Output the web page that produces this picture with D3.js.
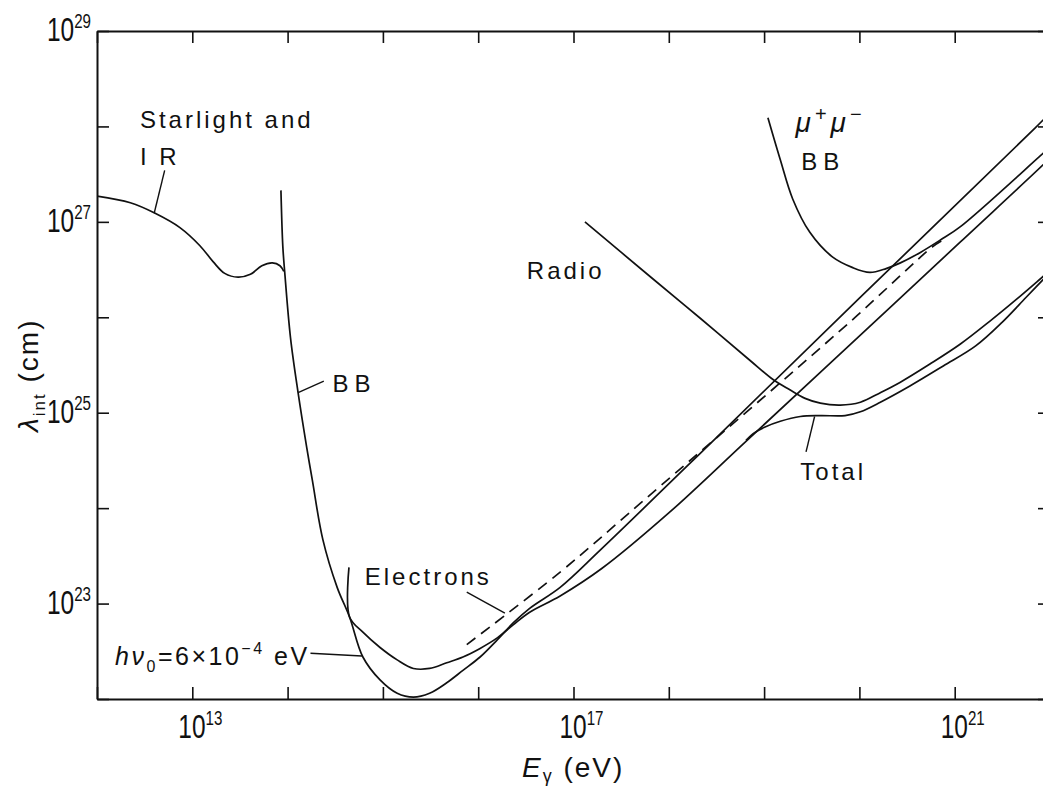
<!DOCTYPE html>
<html>
<head>
<meta charset="utf-8">
<script src="https://cdn.jsdelivr.net/npm/d3@7"></script>
<style>
  body { margin: 0; background: #fff; }
  text { font-family: "Liberation Sans", Arial, sans-serif; fill: #111; }
</style>
</head>
<body>
<div id="chart"></div>
<script>
// values are decade exponents: [log10 E (eV), log10 lambda (cm)]
var starlight = [[12.0,27.27],[12.35,27.20],[12.61,27.09],[12.87,26.94],[13.08,26.75],[13.22,26.58],
    [13.34,26.46],[13.48,26.42],[13.61,26.45],[13.73,26.54],[13.84,26.57],[13.92,26.54],[13.96,26.48]];

var bbPairs = [[13.93,27.33],[13.95,26.74],[13.97,26.47],[14.03,25.79],[14.11,25.21],[14.20,24.64],
    [14.26,24.29],[14.37,23.67],[14.52,23.17],[14.65,22.86],[14.79,22.44],[14.97,22.20],[15.15,22.06],
    [15.32,22.02],[15.49,22.06],[15.67,22.17],[15.84,22.30],[16.02,22.44],[16.20,22.62],[16.37,22.80],
    [16.54,22.95],[16.86,23.17],[17.28,23.56],[18.5,24.74],[20.0,26.20],[21.84,27.98],[22.0,28.14]];

// monochromatic photons, h nu0 = 6e-4 eV (threshold drawn vertical)
var monoPairs = [[14.644,23.38],[14.65,22.86],[14.79,22.70],[14.97,22.54],[15.15,22.41],[15.32,22.32],
    [15.49,22.32],[15.67,22.38],[15.84,22.44],[16.02,22.53],[16.20,22.64],[16.37,22.78],[16.54,22.91],
    [16.86,23.08],[17.3,23.37],[18.0,23.95],[18.81,24.70],[19.90,25.71],[21.06,26.79],[21.93,27.60],
    [22.0,27.67]];

var electrons = [[15.88,22.57],[16.86,23.33],[17.70,24.05],[19.90,25.95],[20.77,26.74],[20.88,26.81]];

var muonPairs = [[19.04,28.09],[19.17,27.65],[19.30,27.24],[19.48,26.89],[19.72,26.63],[19.93,26.52],
    [20.11,26.47],[20.28,26.51],[20.43,26.57],[20.64,26.68],[20.85,26.81],[21.06,26.95],[21.93,27.72],
    [22.0,27.78]];

var radio = [[17.12,27.00],[17.80,26.43],[18.33,25.99],[18.85,25.55],[19.09,25.35],[19.27,25.24],
    [19.43,25.15],[19.59,25.10],[19.80,25.08],[20.01,25.11],[20.22,25.21],[20.43,25.32],[20.74,25.51],
    [21.06,25.72],[21.37,25.96],[21.65,26.19],[21.93,26.43],[22.0,26.49]];

var total = [[18.81,24.71],[18.90,24.79],[19.01,24.85],[19.17,24.91],[19.38,24.96],[19.59,24.97],
    [19.85,24.97],[20.01,25.01],[20.22,25.11],[20.53,25.28],[20.88,25.49],[21.22,25.70],[21.5,25.95],
    [21.75,26.21],[22.0,26.47]];

var xLabelExp = [13, 17, 21];
var yLabelExp = [23, 25, 27, 29];
var xDecades = d3.range(12, 23);
var yDecades = d3.range(22, 30);

// label positions and leader lines, in the same exponent space
var labels = [
    {text: "Starlight and", at: [12.45, 27.98]},
    {text: "I R", at: [12.45, 27.60], leader: [[12.71, 27.54], [12.60, 27.09]]},
    {text: "BB", at: [14.47, 25.22], leader: [[14.38, 25.33], [14.11, 25.21]], spacing: 6},
    {text: "Radio", at: [16.51, 26.40]},
    {text: "BB", at: [19.39, 27.54], spacing: 6},
    {text: "Electrons", at: [14.81, 23.19], leader: [[15.88, 23.12], [16.28, 22.90]]},
    {text: "Total", at: [19.38, 24.29], leader: [[19.44, 24.59], [19.53, 24.96]]}
];
var hnuLeader = [[14.24, 22.48], [14.78, 22.45]];

var svg = d3.select("#chart").append("svg")
    .attr("width", 1043).attr("height", 789)
    .style("background", "#fff");

var x = d3.scaleLog().domain([1e12, 1e22]).range([97, 1050]);
var y = d3.scaleLog().domain([1e22, 1e29]).range([699, 31]);
var px = function(d) { return x(Math.pow(10, d[0])); };
var py = function(d) { return y(Math.pow(10, d[1])); };

svg.append("clipPath").attr("id", "plotClip")
    .append("rect").attr("x", 97).attr("y", 31).attr("width", 953).attr("height", 668);

//Axes with inward ticks on every decade
var tickVals = function(arr) { return arr.map(function(e) { return Math.pow(10, e); }); };
var axisStyle = function(g) {
    g.selectAll("path").attr("stroke", "#111").attr("stroke-width", 2);
    g.selectAll("line").attr("stroke", "#111").attr("stroke-width", 1.6);
};
svg.append("g").attr("transform", "translate(0,699)")
    .call(d3.axisBottom(x).tickValues(tickVals(xDecades)).tickSize(-12).tickSizeOuter(0).tickFormat(""))
    .call(axisStyle);
svg.append("g").attr("transform", "translate(0,31)")
    .call(d3.axisTop(x).tickValues(tickVals(xDecades)).tickSize(-12).tickSizeOuter(0).tickFormat(""))
    .call(axisStyle);
svg.append("g").attr("transform", "translate(97,0)")
    .call(d3.axisLeft(y).tickValues(tickVals(yDecades)).tickSize(-12).tickSizeOuter(0).tickFormat(""))
    .call(axisStyle);
svg.append("g").attr("transform", "translate(1050,0)")
    .call(d3.axisRight(y).tickValues(tickVals(yDecades)).tickSize(-12).tickSizeOuter(0).tickFormat(""))
    .call(axisStyle);

//Power-of-ten tick labels, narrow lettering
function powerLabel(tx, ty, exp, anchor) {
    var t = svg.append("text")
        .attr("transform", "translate(" + tx + "," + ty + ") scale(0.72,1)")
        .style("text-anchor", anchor)
        .style("font-size", "34px");
    t.append("tspan").text("10");
    t.append("tspan").attr("dy", -13).style("font-size", "21px").text(exp);
}
yLabelExp.forEach(function(e) { powerLabel(91, y(Math.pow(10, e)) + 10, e, "end"); });
xLabelExp.forEach(function(e) { powerLabel(x(Math.pow(10, e)) - 14, 738, e, "start"); });

//Axis titles
var xt = svg.append("text").attr("x", 522).attr("y", 777)
    .style("font-size", "28px").style("letter-spacing", "2px");
xt.append("tspan").style("font-style", "italic").text("E");
xt.append("tspan").attr("dy", 5).style("font-size", "18px").text("γ");
xt.append("tspan").attr("dy", -5).text(" (eV)");

var yt = svg.append("text").attr("transform", "translate(38,432) rotate(-90)")
    .style("font-size", "28px").style("letter-spacing", "2px");
yt.append("tspan").style("font-style", "italic").text("λ");
yt.append("tspan").attr("dy", 7).style("font-size", "17px").text("int");
yt.append("tspan").attr("dy", -7).text(" (cm)");

//Curves
var line = d3.line().x(px).y(py).curve(d3.curveCatmullRom.alpha(0.5));
var plot = svg.append("g").attr("clip-path", "url(#plotClip)");
var curves = [
    {data: starlight}, {data: bbPairs}, {data: monoPairs}, {data: electrons, dash: "11,7"},
    {data: muonPairs}, {data: radio}, {data: total}
];
plot.selectAll(".curve")
    .data(curves)
    .enter().append("path")
    .attr("class", "curve")
    .attr("d", function(d) { return line(d.data); })
    .attr("fill", "none")
    .attr("stroke", "#111")
    .attr("stroke-width", 1.7)
    .attr("stroke-dasharray", function(d) { return d.dash || null; });

//Labels and leaders
labels.forEach(function(l) {
    svg.append("text")
        .attr("x", px(l.at)).attr("y", py(l.at))
        .style("font-size", "24px")
        .style("letter-spacing", (l.spacing || 3) + "px")
        .text(l.text);
    if (l.leader) {
        svg.append("path").attr("d", d3.line().x(px).y(py)(l.leader))
            .attr("stroke", "#111").attr("stroke-width", 1.4).attr("fill", "none");
    }
});

var mu = svg.append("text").attr("x", px([19.33, 0])).attr("y", py([0, 27.94]))
    .style("font-size", "28px").style("letter-spacing", "4px");
mu.append("tspan").style("font-style", "italic").text("μ");
mu.append("tspan").attr("dy", -11).style("font-size", "20px").text("+");
mu.append("tspan").attr("dy", 11).style("font-style", "italic").text("μ");
mu.append("tspan").attr("dy", -11).style("font-size", "20px").text("−");

var hnu = svg.append("text").attr("x", px([12.19, 0])).attr("y", py([0, 22.36]))
    .style("font-size", "25px").style("letter-spacing", "2.5px");
hnu.append("tspan").style("font-style", "italic").text("hν");
hnu.append("tspan").attr("dy", 7).style("font-size", "16px").text("0");
hnu.append("tspan").attr("dy", -7).text("=6×10");
hnu.append("tspan").attr("dy", -11).style("font-size", "16px").text("−4");
hnu.append("tspan").attr("dy", 11).text(" eV");
svg.append("path").attr("d", d3.line().x(px).y(py)(hnuLeader))
    .attr("stroke", "#111").attr("stroke-width", 1.4).attr("fill", "none");
</script>
</body>
</html>
